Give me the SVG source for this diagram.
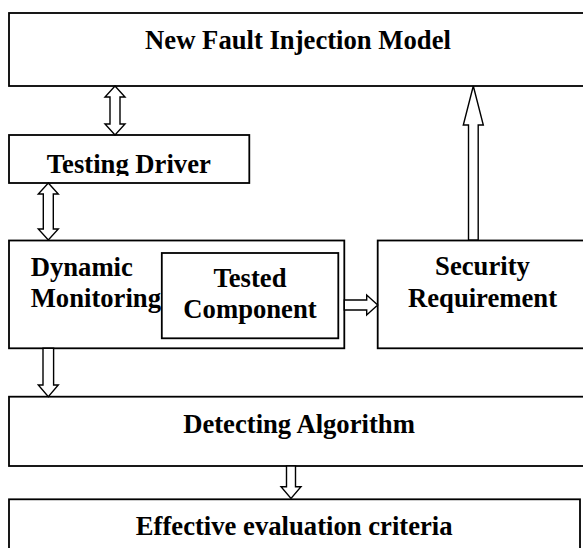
<svg xmlns="http://www.w3.org/2000/svg" width="583" height="548" viewBox="0 0 583 548">
<style>
.box{fill:#fff;stroke:#000;stroke-width:1.8}
.arr{fill:#fff;stroke:#000;stroke-width:1.4;stroke-linejoin:miter}
text{font-family:"Liberation Serif","Times New Roman",serif;font-weight:bold;font-size:26.67px;fill:#000}
.c{text-anchor:middle}
</style>
<defs>
<clipPath id="tdclip"><rect x="9" y="135" width="240" height="41"/></clipPath>
</defs>
<rect width="583" height="548" fill="#fff"/>
<g id="new-fault-injection-model">
<rect class="box" x="9" y="13" width="580" height="73"/>
<text class="c" x="298" y="49.3">New Fault Injection Model</text>
</g>
<g id="testing-driver">
<rect class="box" x="9" y="135" width="240.3" height="48"/>
<text class="c" x="128.8" y="172.5" clip-path="url(#tdclip)">Testing Driver</text>
</g>
<g id="dynamic-monitoring">
<rect class="box" x="9" y="240.5" width="335.3" height="107.8"/>
<text x="30.7" y="275.7">Dynamic</text>
<text x="30.7" y="306.7">Monitoring</text>
</g>
<g id="tested-component">
<rect class="box" x="161.8" y="253" width="176.5" height="85.3"/>
<text class="c" x="250" y="286.7">Tested</text>
<text class="c" x="250" y="318.3">Component</text>
</g>
<g id="security-requirement">
<rect class="box" x="377.7" y="240.5" width="210" height="107.8"/>
<text class="c" x="482.5" y="275">Security</text>
<text class="c" x="482.5" y="306.7">Requirement</text>
</g>
<g id="detecting-algorithm">
<rect class="box" x="9" y="396.7" width="580" height="69.3"/>
<text class="c" x="299" y="433.3">Detecting Algorithm</text>
</g>
<g id="effective-evaluation-criteria">
<rect class="box" x="9" y="499.3" width="571" height="60"/>
<text class="c" x="294.2" y="535">Effective evaluation criteria</text>
</g>
<g id="connectors">
<polygon class="arr" points="115,86 125,97 120,97 120,124 125,124 115,135 105,124 110,124 110,97 105,97"/>
<polygon class="arr" points="48.3,183 58.3,194 53.3,194 53.3,229 58.3,229 48.3,240 38.3,229 43.3,229 43.3,194 38.3,194"/>
<polygon class="arr" points="473.3,86 483.3,125 478.2,125 478.2,240 468.5,240 468.5,125 463.3,125"/>
<polygon class="arr" points="344.3,300 366.7,300 366.7,295 377.7,305 366.7,315 366.7,310 344.3,310"/>
<polygon class="arr" points="43,348.3 53.6,348.3 53.6,385 58.3,385 48.3,396.7 38.3,385 43,385"/>
<polygon class="arr" points="286.5,466 295.5,466 295.5,486.7 301,486.7 291,498.5 281,486.7 286.5,486.7"/>
</g>
</svg>
